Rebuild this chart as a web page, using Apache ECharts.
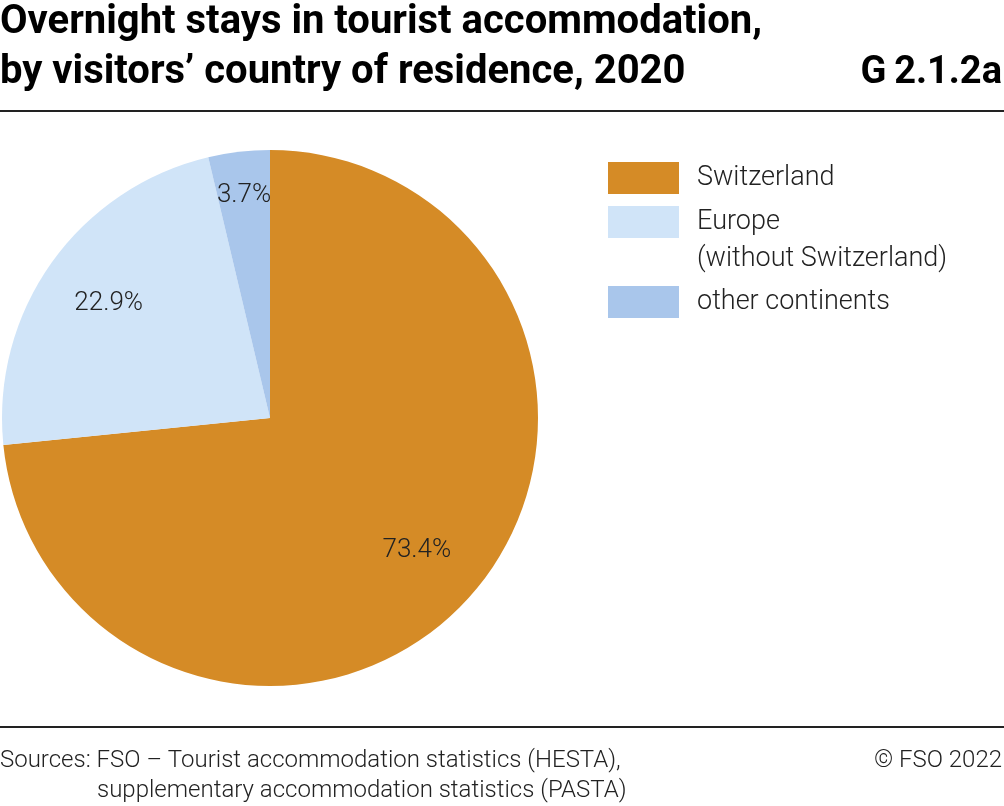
<!DOCTYPE html>
<html>
<head>
<meta charset="utf-8">
<script src="https://cdn.jsdelivr.net/npm/echarts@6/dist/echarts.min.js"></script>
<style>
  html, body { margin: 0; padding: 0; background: #fff; }
  #chart { width: 1004px; height: 806px; }
</style>
</head>
<body>
<div id="chart"></div>
<script>
// data
const categories = ['Switzerland', 'Europe', 'other continents'];
// leading empty line keeps "Europe" level with its box
const legendLabels = ['Switzerland', '\nEurope\n(without Switzerland)', 'other continents'];
const shares = [73.4, 22.9, 3.7];

const colors = ['#d58b26', '#d0e4f8', '#a9c6eb'];
const font = "Roboto, 'Liberation Sans', sans-serif";

const chart = echarts.init(document.getElementById('chart'), null, { renderer: 'canvas' });

const pieData = categories.map((name, i) => ({
  name: name,
  value: shares[i],
  itemStyle: { color: colors[i] }
}));

// transparent rings only used to put the percentage labels further out
function labelRing(showIdx) {
  return categories.map((name, i) => ({
    name: name,
    value: shares[i],
    label: { show: showIdx.indexOf(i) >= 0 }
  }));
}

const labelStyle = {
  position: 'inside',
  fontFamily: font,
  fontSize: 26,
  fontWeight: 300,
  color: '#222',
  formatter: p => p.value.toFixed(1) + '%'
};

function legendFor(i, top) {
  return {
    orient: 'vertical',
    left: 608,
    top: top,
    padding: 0,
    itemWidth: 71,
    itemHeight: 32,
    selectedMode: false,
    icon: 'rect',
    data: [categories[i]],
    textStyle: { fontFamily: font, fontSize: 27, fontWeight: 300, color: '#222', lineHeight: 37, padding: [0, 0, 0, 13] },
    formatter: () => legendLabels[i]
  };
}

const footStyle = { fontFamily: font, fontSize: 24, fontWeight: 300, color: '#222', lineHeight: 30 };
const headStyle = { fontFamily: font, fontSize: 40, fontWeight: 'bold', color: '#000', lineHeight: 50 };

chart.setOption({
  animation: false,
  backgroundColor: '#fff',
  title: [
    {
      text: 'Overnight stays in tourist accommodation,\nby visitors\u2019 country of residence, 2020',
      left: 0, top: -2, padding: 0,
      textStyle: headStyle
    },
    {
      text: 'G\u20092.1.2a',
      right: 2, top: 48, padding: 0,
      textStyle: Object.assign({}, headStyle, { fontSize: 38 })
    },
    {
      text: 'Sources: FSO \u2013 Tourist accommodation statistics (HESTA),',
      left: 0, top: 746, padding: 0,
      textStyle: footStyle
    },
    {
      text: 'supplementary accommodation statistics (PASTA)',
      left: 97, top: 776, padding: 0,
      textStyle: footStyle
    },
    {
      text: '\u00a9 FSO 2022',
      right: 2, top: 746, padding: 0,
      textStyle: footStyle
    }
  ],
  legend: [
    legendFor(0, 159.5),
    legendFor(1, 166.5),
    legendFor(2, 283.5)
  ],
  graphic: [
    { type: 'line', shape: { x1: 0, y1: 111, x2: 1004, y2: 111 }, style: { stroke: '#222', lineWidth: 2 } },
    { type: 'line', shape: { x1: 0, y1: 727, x2: 1004, y2: 727 }, style: { stroke: '#222', lineWidth: 2 } }
  ],
  series: [
    {
      type: 'pie',
      center: [270, 418],
      radius: [0, 268],
      startAngle: 90,
      clockwise: true,
      silent: true,
      label: { show: false },
      labelLine: { show: false },
      itemStyle: { borderWidth: 0 },
      data: pieData
    },
    {
      type: 'pie',
      center: [270, 418],
      radius: [122, 268],
      startAngle: 90,
      clockwise: true,
      silent: true,
      itemStyle: { color: 'rgba(0,0,0,0)', borderWidth: 0 },
      label: labelStyle,
      labelLine: { show: false },
      data: labelRing([0, 1])
    },
    {
      type: 'pie',
      center: [270, 418],
      radius: [174, 268],
      startAngle: 90,
      clockwise: true,
      silent: true,
      itemStyle: { color: 'rgba(0,0,0,0)', borderWidth: 0 },
      label: labelStyle,
      labelLine: { show: false },
      data: labelRing([2])
    }
  ]
});
</script>
</body>
</html>
